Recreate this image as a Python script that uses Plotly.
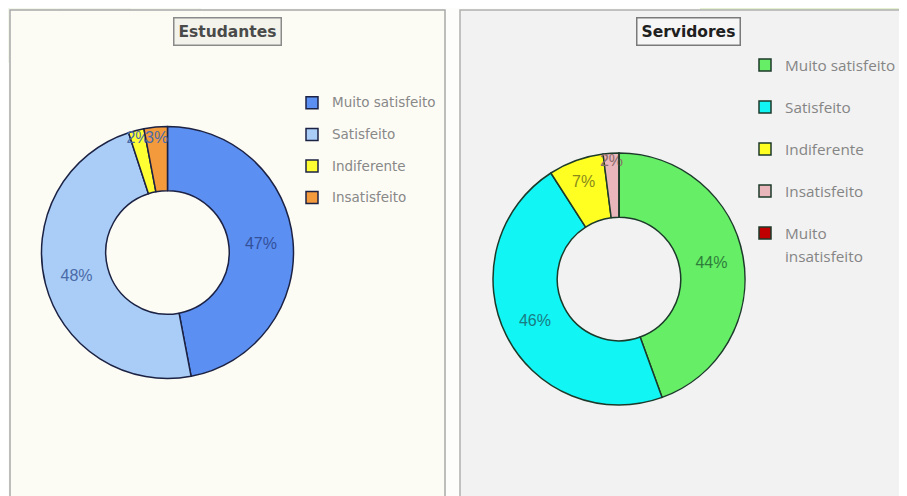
import plotly.graph_objects as go

# ---- data ----
est_labels = ["Muito satisfeito", "Satisfeito", "Indiferente", "Insatisfeito"]
est_values = [47, 48, 2, 3]
est_colors = ["#5b8ff2", "#a9cdf6", "#ffff33", "#f29a3c"]
est_text_colors = ["#33509a", "#4a6aa8", "#4a6aa8", "#4a6aa8"]

ser_labels = ["Muito satisfeito", "Satisfeito", "Indiferente", "Insatisfeito", "Muito<br>insatisfeito"]
ser_values = [44, 46, 7, 2, 0]
ser_colors = ["#66ee66", "#11f5f5", "#ffff22", "#e8b6bb", "#c00000"]
ser_text_colors = ["#2e7d3a", "#1a7c82", "#8a8a1a", "#8a6a6a", "#8a2020"]

# the page body adds an 8px margin, so the figure starts at (8, 8) in the window
OFF = 8
W, H = 907 - OFF, 496 - OFF


def px_x(v):
    return (v - OFF) / W


def px_y(v):
    return 1 - (v - OFF) / H


def legend_label(lbl, size, shift, line_fix, family):
    parts = lbl.split("<br>")
    out = []
    for i, p in enumerate(parts):
        out.append(f"<span style='font-size:{size}px;font-family:{family};"
                   f"baseline-shift:{shift + i * line_fix}px'>{p}</span>")
    return "<br>".join(out)


def templates(values):
    return ["%{value}%" if v > 0 else "" for v in values]


fig = go.Figure()

fig.add_trace(go.Pie(
    labels=[legend_label(l, 13.5, 4, 0, "DejaVu Sans") for l in est_labels],
    values=est_values,
    hole=0.49,
    sort=False,
    direction="clockwise",
    rotation=0,
    marker=dict(colors=est_colors, line=dict(color="#1c2244", width=1.5)),
    texttemplate=templates(est_values),
    textposition="inside",
    insidetextorientation="horizontal",
    textfont=dict(family="Liberation Sans, Arial", size=16, color=est_text_colors),
    domain=dict(x=[px_x(41.5), px_x(293.5)], y=[px_y(378.5), px_y(126.5)]),
    legend="legend",
    hoverinfo="label+percent",
))

fig.add_trace(go.Pie(
    labels=[legend_label(l, 15.3, 6, 16, "Open Sans") for l in ser_labels],
    values=ser_values,
    hole=0.49,
    sort=False,
    direction="clockwise",
    rotation=0,
    marker=dict(colors=ser_colors, line=dict(color="#1c3a2a", width=1.5)),
    texttemplate=templates(ser_values),
    textposition="inside",
    insidetextorientation="horizontal",
    textfont=dict(family="Liberation Sans, Arial", size=16, color=ser_text_colors),
    domain=dict(x=[px_x(493), px_x(745)], y=[px_y(405), px_y(153)]),
    legend="legend2",
    hoverinfo="label+percent",
))

shapes = [
    # faint decorative background (top-left boxes, very light)
    dict(type="rect", xref="paper", yref="paper", x0=px_x(8), x1=px_x(130), y0=px_y(62), y1=px_y(8),
         line=dict(color="#f0f4e8", width=1), fillcolor="rgba(240,246,230,0.6)", layer="below"),
    dict(type="rect", xref="paper", yref="paper", x0=px_x(60), x1=px_x(200), y0=px_y(120), y1=px_y(8),
         line=dict(color="#f0f2ea", width=1), fillcolor="rgba(0,0,0,0)", layer="below"),
    # top-right green gradient hint
    dict(type="rect", xref="paper", yref="paper", x0=px_x(700), x1=px_x(907), y0=px_y(10), y1=px_y(8),
         line=dict(width=0), fillcolor="rgba(215,235,190,0.7)", layer="below"),
    # panels
    dict(type="rect", xref="paper", yref="paper", x0=px_x(10), x1=px_x(445), y0=px_y(498), y1=px_y(10),
         line=dict(color="#a8a8a8", width=1.5), fillcolor="#fcfcf5", layer="below"),
    dict(type="rect", xref="paper", yref="paper", x0=px_x(460), x1=px_x(910), y0=px_y(498), y1=px_y(10),
         line=dict(color="#b0b0b0", width=1.5), fillcolor="#f2f2f2", layer="below"),
]

annotations = [
    dict(text="<b>Estudantes</b>", xref="paper", yref="paper", x=px_x(227), y=px_y(31.5),
         xanchor="center", yanchor="middle", showarrow=False,
         font=dict(family="DejaVu Sans", size=15.5, color="#4a4a4a"),
         bgcolor="#f3f3ec", bordercolor="#8a8a8a", borderwidth=1.5, borderpad=4),
    dict(text="<b>Servidores</b>", xref="paper", yref="paper", x=px_x(688), y=px_y(31.5),
         xanchor="center", yanchor="middle", showarrow=False,
         font=dict(family="DejaVu Sans", size=15.5, color="#202020"),
         bgcolor="#f6f6f6", bordercolor="#7a7a7a", borderwidth=1.5, borderpad=4),
]

fig.update_layout(
    width=W, height=H,
    margin=dict(l=0, r=0, t=0, b=0),
    paper_bgcolor="#fdfefb",
    plot_bgcolor="rgba(0,0,0,0)",
    shapes=shapes,
    annotations=annotations,
    uniformtext=dict(minsize=16, mode="show"),
    legend=dict(x=px_x(292), y=px_y(82), xanchor="left", yanchor="top",
                font=dict(family="Liberation Sans, Arial", size=22, color="#888888"),
                bgcolor="rgba(0,0,0,0)"),
    legend2=dict(x=px_x(745), y=px_y(39), xanchor="left", yanchor="top", valign="top",
                 font=dict(family="Liberation Sans, Arial", size=30, color="#858585"),
                 bgcolor="rgba(0,0,0,0)"),
)

fig.write_html("out.html")
